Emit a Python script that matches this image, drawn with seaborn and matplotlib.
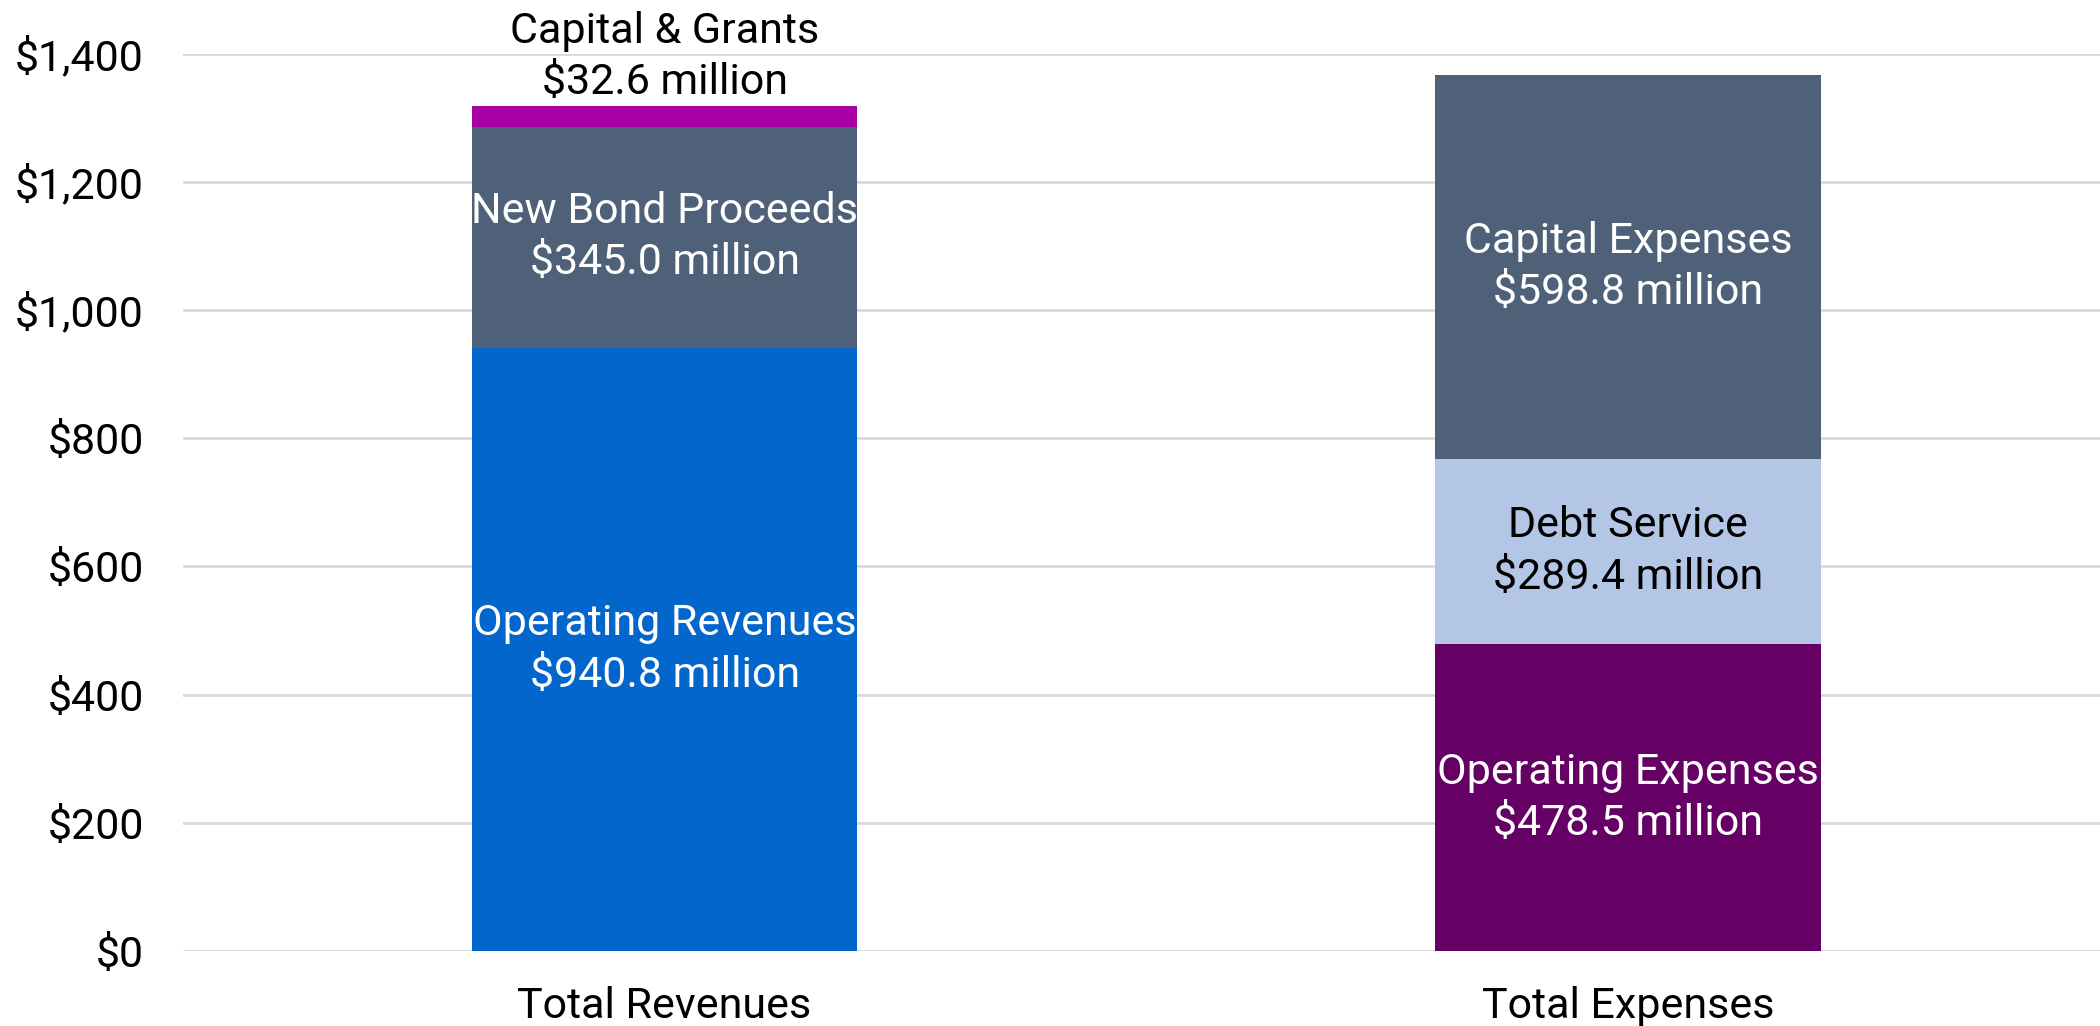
import matplotlib
matplotlib.use("Agg")
import matplotlib.pyplot as plt
import seaborn as sns
import pandas as pd
import numpy as np
from matplotlib.ticker import FuncFormatter

# ---------------- data ----------------
categories = ["Total Revenues", "Total Expenses"]

rev_items = ["Operating Revenues", "New Bond Proceeds", "Capital & Grants"]
rev_values = [940.8, 345.0, 32.6]
rev_colors = ["#0366CC", "#4E6179", "#A600A6"]
rev_text_colors = ["white", "white", "black"]

exp_items = ["Operating Expenses", "Debt Service", "Capital Expenses"]
exp_values = [478.5, 289.4, 598.8]
exp_colors = ["#650064", "#B3C6E6", "#4E6179"]
exp_text_colors = ["white", "black", "white"]

y_ticks = [0, 200, 400, 600, 800, 1000, 1200, 1400]

# ---------------- style ----------------
sns.set_theme(style="white")
plt.rcParams["font.family"] = ["Roboto", "DejaVu Sans"]
FS = 31
LS = 1.32

fig = plt.figure(figsize=(21, 10.26), dpi=100)
ax = fig.add_axes([0.0871, 0.0731, 0.9129, 0.8747])

items = [rev_items, exp_items]
values = [rev_values, exp_values]
colors = [rev_colors, exp_colors]
tcolors = [rev_text_colors, exp_text_colors]

cum = [np.cumsum(v) for v in values]
n_layers = len(rev_values)

# draw cumulative heights from the top layer down (stacked bars)
for layer in reversed(range(n_layers)):
    df = pd.DataFrame({
        "category": categories,
        "top": [cum[c][layer] for c in range(len(categories))],
    })
    sns.barplot(data=df, x="category", y="top", hue="category",
                order=categories, hue_order=categories,
                palette=[colors[c][layer] for c in range(len(categories))],
                width=0.4, saturation=1, errorbar=None, legend=False,
                linewidth=0, ax=ax, zorder=3)

# labels
for c in range(len(categories)):
    for layer in range(n_layers):
        v = values[c][layer]
        bottom = cum[c][layer] - v
        txt = f"{items[c][layer]}\n${v:,.1f} million"
        if v < 100:
            ax.annotate(txt, xy=(c, cum[c][layer]), xytext=(0, 2),
                        textcoords="offset points", ha="center", va="bottom",
                        fontsize=FS, color="black", linespacing=LS,
                        annotation_clip=False, zorder=5)
        else:
            ax.text(c, bottom + v / 2, txt, ha="center", va="center",
                    fontsize=FS, color=tcolors[c][layer], linespacing=LS,
                    zorder=5)

ax.set_xlim(-0.5, 1.49)
ax.set_ylim(0, 1400)
ax.set_yticks(y_ticks)
ax.yaxis.set_major_formatter(FuncFormatter(lambda v, p: f"${v:,.0f}"))
ax.grid(axis="y", color="#D9D9D9", linewidth=2, zorder=0)
ax.grid(axis="x", visible=False)
ax.set_axisbelow(True)
for s in ax.spines.values():
    s.set_visible(False)
ax.tick_params(axis="y", length=0, pad=28, labelsize=FS, labelcolor="black")
ax.tick_params(axis="x", length=0, pad=25, labelsize=FS, labelcolor="black")
ax.set_xlabel("")
ax.set_ylabel("")

fig.savefig("out.png", dpi=100)
